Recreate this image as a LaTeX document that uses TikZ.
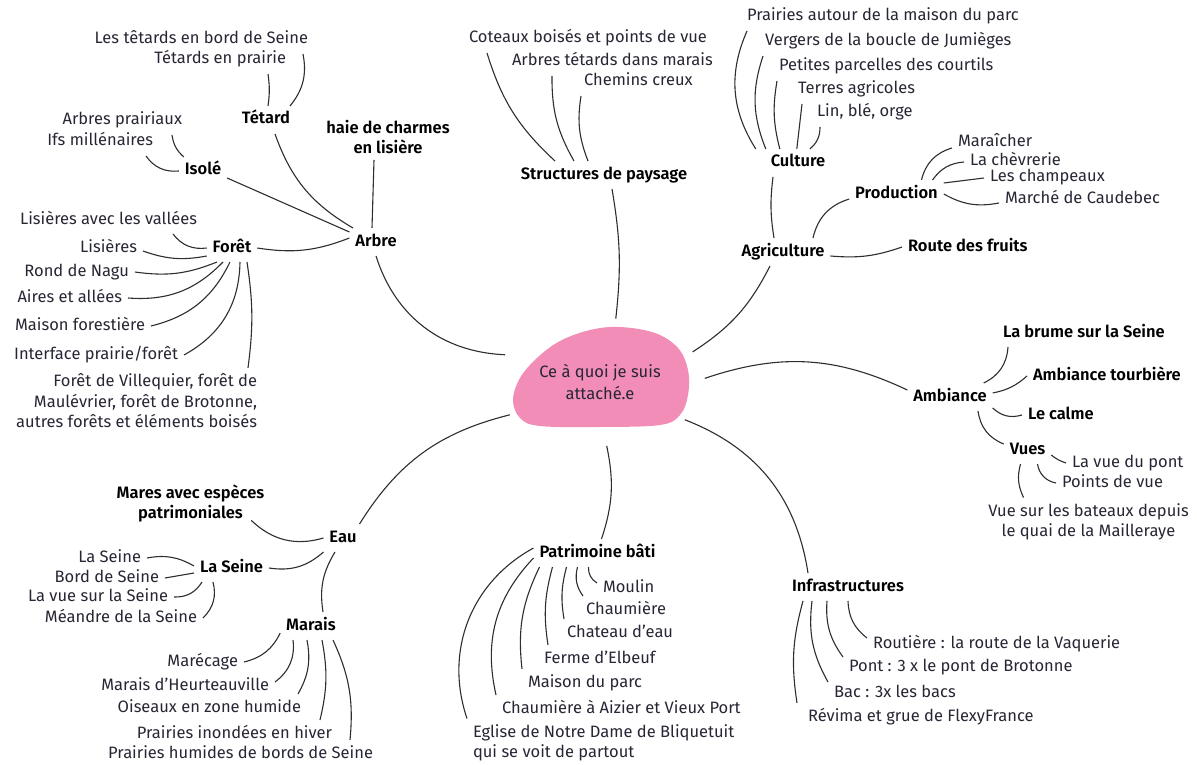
\documentclass[tikz,border=0pt]{standalone}
\usepackage{fontspec}
\setmainfont{Fira Sans}[BoldFont={Fira Sans SemiBold}]
\usetikzlibrary{shapes.geometric}
\definecolor{blobc}{RGB}{242,141,184}
\definecolor{txt}{RGB}{38,38,52}
\definecolor{lnc}{RGB}{45,45,50}
\begin{document}
\begin{tikzpicture}[x=1pt,y=-1pt,
  base/.style={font=\fontsize{16.5}{20.5}\selectfont, text=txt, inner sep=3pt, outer sep=3pt},
  lbl/.style={base, text height=12pt, text depth=4pt},
  hd/.style={lbl, font=\fontsize{16.5}{20.5}\selectfont\bfseries, text=black},
  mlt/.style={base},
  mhd/.style={base, font=\fontsize{16.5}{20.5}\selectfont\bfseries, text=black},
  link/.style={draw=lnc, line width=1.1pt},
]
\useasboundingbox (0,0) rectangle (1197,765);
\fill[blobc] plot[smooth cycle, tension=0.6] coordinates {(513,400) (520,378) (537,358) (560,341) (590,330) (620,327) (655,333) (678,348) (688,370) (688,395) (680,415) (660,425) (600,427) (540,426) (520,418)};
\node[ellipse, minimum width=210pt, minimum height=128pt, inner sep=0pt, outer sep=0pt, align=center, font=\fontsize{16.5}{22}\selectfont, text=txt] (root) at (600,382) {Ce à quoi je suis\\attaché.e};
% main
\node[hd] (arbre) at (376,242) {Arbre};
\node[hd] (struct) at (604,175) {Structures de paysage};
\node[hd] (agri) at (783,252) {Agriculture};
\node[hd] (amb) at (950,397) {Ambiance};
\node[hd] (infra) at (848,587) {Infrastructures};
\node[hd] (patri) at (597.5,553) {Patrimoine bâti};
\node[hd] (eau) at (343,538) {Eau};
% arbre
\node[hd] (tetard) at (266,120) {Tétard};
\node[mhd, align=center] (haie) at (388,137) {haie de charmes\\en lisière};
\node[hd] (isole) at (203,171) {Isolé};
\node[hd] (foret) at (232,248) {Forêt};
\node[lbl, anchor=east] (t1) at (314,40) {Les têtards en bord de Seine};
\node[lbl, anchor=east] (t2) at (292,60) {Tétards en prairie};
\node[lbl, anchor=east] (i1) at (188,121) {Arbres prairiaux};
\node[lbl, anchor=east] (i2) at (159,142) {Ifs millénaires};
\node[lbl, anchor=east] (f1) at (203,220) {Lisières avec les vallées};
\node[lbl, anchor=east] (f2) at (143,248) {Lisières};
\node[lbl, anchor=east] (f3) at (135,272) {Rond de Nagu};
\node[lbl, anchor=east] (f4) at (128,298) {Aires et allées};
\node[lbl, anchor=east] (f5) at (151,326) {Maison forestière};
\node[lbl, anchor=east] (f6) at (184,355) {Interface prairie/forêt};
\node[mlt, align=right, anchor=east] (f7) at (263,401) {Forêt de Villequier, forêt de\\Maulévrier, forêt de Brotonne,\\autres forêts et éléments boisés};
% structures
\node[lbl, anchor=west] (s1) at (463,39) {Coteaux boisés et points de vue};
\node[lbl, anchor=west] (s2) at (506,62) {Arbres tétards dans marais};
\node[lbl, anchor=west] (s3) at (578,82) {Chemins creux};
% agriculture
\node[hd] (cult) at (798,163) {Culture};
\node[lbl, anchor=west] (c1) at (741,17) {Prairies autour de la maison du parc};
\node[lbl, anchor=west] (c2) at (759,42) {Vergers de la boucle de Jumièges};
\node[lbl, anchor=west] (c3) at (773,67) {Petites parcelles des courtils};
\node[lbl, anchor=west] (c4) at (792,90) {Terres agricoles};
\node[lbl, anchor=west] (c5) at (811,113) {Lin, blé, orge};
\node[hd] (prod) at (896.5,194) {Production};
\node[lbl, anchor=west] (p1) at (952,143) {Maraîcher};
\node[lbl, anchor=west] (p2) at (964,162) {La chèvrerie};
\node[lbl, anchor=west] (p3) at (984,178) {Les champeaux};
\node[lbl, anchor=west] (p4) at (999,199) {Marché de Caudebec};
\node[hd, anchor=west] (rf) at (902,247) {Route des fruits};
% ambiance
\node[hd, anchor=west] (a1) at (997,333) {La brume sur la Seine};
\node[hd, anchor=west] (a2) at (1027,376) {Ambiance tourbière};
\node[hd, anchor=west] (a3) at (1022,415) {Le calme};
\node[hd] (vues) at (1027.5,450) {Vues};
\node[lbl, anchor=west] (v1) at (1066,463) {La vue du pont};
\node[lbl, anchor=west] (v2) at (1056,483) {Points de vue};
\node[mlt, align=center] (v3) at (1088.5,522) {Vue sur les bateaux depuis\\le quai de la Mailleraye};
% eau
\node[mhd, align=center] (mares) at (190.5,503.5) {Mares avec espèces\\patrimoniales};
\node[hd] (lseine) at (231.5,568) {La Seine};
\node[hd] (marais) at (311,626) {Marais};
\node[lbl, anchor=east] (ls1) at (147,558) {La Seine};
\node[lbl, anchor=east] (ls2) at (165,578) {Bord de Seine};
\node[lbl, anchor=east] (ls3) at (174,597) {La vue sur la Seine};
\node[lbl, anchor=east] (ls4) at (203,618) {Méandre de la Seine};
\node[lbl, anchor=east] (mr1) at (244,662) {Marécage};
\node[lbl, anchor=east] (mr2) at (275,686) {Marais d’Heurteauville};
\node[lbl, anchor=east] (mr3) at (307,708) {Oiseaux en zone humide};
\node[lbl, anchor=east] (mr4) at (338,734) {Prairies inondées en hiver};
\node[lbl, anchor=east] (mr5) at (379,754) {Prairies humides de bords de Seine};
% patrimoine
\node[lbl, anchor=west] (pb1) at (597,588) {Moulin};
\node[lbl, anchor=west] (pb2) at (580,610) {Chaumière};
\node[lbl, anchor=west] (pb3) at (561,633) {Chateau d’eau};
\node[lbl, anchor=west] (pb4) at (538,659) {Ferme d’Elbeuf};
\node[lbl, anchor=west] (pb5) at (522,683) {Maison du parc};
\node[lbl, anchor=west] (pb6) at (496,709) {Chaumière à Aizier et Vieux Port};
\node[mlt, align=left, anchor=west] (pb7) at (467,743) {Eglise de Notre Dame de Bliquetuit\\qui se voit de partout};
% infra
\node[lbl, anchor=west] (in1) at (867,644) {Routière : la route de la Vaquerie};
\node[lbl, anchor=west] (in2) at (843,667) {Pont : 3 x le pont de Brotonne};
\node[lbl, anchor=west] (in3) at (828,693) {Bac : 3x les bacs};
\node[lbl, anchor=west] (in4) at (802,717) {Révima et grue de FlexyFrance};

% ---------- connectors ----------
\draw[link] (root.164) to[bend left=35] (arbre.south);
\draw[link] (root.76) to[bend right=8] ([xshift=8pt]struct.south);
\draw[link] (root.18) to[bend right=15] ([xshift=-13pt]agri.south);
\draw[link] (root.2) to[bend left=22] ([yshift=7pt]amb.west);
\draw[link] (root.-24) to[bend left=30] ([xshift=-40pt]infra.north);
\draw[link] (root.-84) to[bend left=15] ([xshift=4pt]patri.north);
\draw[link] (root.200) to[bend right=22] ([xshift=-3pt]eau.north east);
% arbre
\draw[link] ([xshift=-23pt]arbre.north) to[bend left=20] ([xshift=9pt]tetard.south);
\draw[link] ([xshift=-4pt]arbre.north) -- ([xshift=-14pt]haie.south);
\draw[link] ([yshift=10pt]arbre.west) -- ([yshift=-7pt]isole.east);
\draw[link] ([yshift=4pt]arbre.west) to[bend left=15] (foret.east);
\draw[link] ([xshift=-6pt]tetard.north east) to[bend right=25] ([xshift=-11pt]t1.south east);
\draw[link] ([xshift=2pt]tetard.north) to[bend right=8] ([xshift=-24pt]t2.south east);
\draw[link] ([xshift=5pt]isole.north west) to[bend left=20] ([xshift=-16pt]i1.south east);
\draw[link] (isole.west) to[bend left=30] ([xshift=-13pt]i2.south east);
\draw[link] (foret.west) to[bend left=30] ([xshift=-30pt]f1.south east);
\draw[link] ([yshift=-8pt]foret.west) to[bend left=15] ([yshift=-3pt]f2.east);
\draw[link] ([xshift=-15pt]foret.south) to[bend left=15] (f3.east);
\draw[link] ([xshift=-9pt]foret.south) to[bend left=25] (f4.east);
\draw[link] ([xshift=-2pt]foret.south) to[bend left=25] (f5.east);
\draw[link] ([xshift=8pt]foret.south) to[bend left=30] (f6.east);
\draw[link] ([xshift=15pt]foret.south) to[bend left=8] ([xshift=-15pt]f7.north east);
% structures
\draw[link] ([xshift=-49pt]struct.north) to[bend left=15] ([xshift=24pt]s1.south west);
\draw[link] ([xshift=-30pt]struct.north) to[bend left=15] ([xshift=46pt]s2.south west);
\draw[link] ([xshift=-16pt]struct.north) to[bend left=15] ([xshift=3pt]s3.south west);
% agriculture
\draw[link] ([xshift=-9pt]agri.north) to[bend left=8] ([xshift=-25pt]cult.south);
\draw[link] ([xshift=-9pt]cult.north west) to[bend left=28] ([xshift=6pt]c1.south west);
\draw[link] ([xshift=1pt]cult.north west) to[bend left=20] ([xshift=4pt]c2.south west);
\draw[link] ([xshift=15pt]cult.north west) to[bend left=12] ([xshift=4pt]c3.south west);
\draw[link] ([xshift=32pt]cult.north west) -- ([xshift=10pt]c4.south west);
\draw[link] ([xshift=45pt]cult.north west) to[bend right=25] ([xshift=9pt]c5.south west);
\draw[link] ([xshift=30pt]agri.north) to[bend left=30] ([yshift=-5pt]prod.west);
\draw[link] ([yshift=-4pt]agri.east) to[bend right=12] (rf.west);
\draw[link] ([xshift=25pt]prod.north) to[bend left=30] ([yshift=-5pt]p1.west);
\draw[link] ([xshift=36pt]prod.north) to[bend left=25] (p2.west);
\draw[link] ([yshift=11pt]prod.east) -- (p3.west);
\draw[link] (prod.east) to[bend right=20] ([yshift=-4pt]p4.west);
% ambiance
\draw[link] ([xshift=-9pt]amb.north east) to[bend right=30] ([xshift=11pt]a1.south west);
\draw[link] ([yshift=4pt]amb.east) to[bend right=15] (a2.west);
\draw[link] ([yshift=-11pt]amb.east) to[bend right=30] (a3.west);
\draw[link] ([xshift=28pt]amb.south) to[bend right=30] ([yshift=6pt]vues.west);
\draw[link] ([yshift=-5pt]vues.east) to[bend right=10] (v1.west);
\draw[link] ([xshift=10pt]vues.south) to[bend right=35] (v2.west);
\draw[link] ([xshift=-7pt]vues.south) to[bend right=20] ([xshift=-65pt]v3.north);
% eau
\draw[link] (eau.west) to[bend left=30] ([xshift=-19pt,yshift=8pt]mares.south east);
\draw[link] (eau.south west) to[bend left=25] (lseine.east);
\draw[link] ([xshift=-8pt]eau.south) to[bend right=20] ([xshift=12pt]marais.north);
\draw[link] ([yshift=2pt]lseine.west) to[bend right=20] (ls1.east);
\draw[link] ([yshift=-5pt]lseine.west) -- (ls2.east);
\draw[link] ([xshift=8pt]lseine.south west) to[bend left=30] (ls3.east);
\draw[link] ([xshift=19pt]lseine.south west) to[bend left=30] (ls4.east);
\draw[link] ([yshift=-7pt]marais.west) to[bend left=25] (mr1.east);
\draw[link] ([xshift=-18pt]marais.south) to[bend left=30] ([yshift=4pt]mr2.east);
\draw[link] ([xshift=-4pt]marais.south) to[bend left=20] ([xshift=-9pt]mr3.north east);
\draw[link] ([xshift=11pt]marais.south) to[bend left=12] ([xshift=-18pt]mr4.north east);
\draw[link] ([xshift=22pt]marais.south) to[bend left=15] ([xshift=-29pt]mr5.north east);
% patrimoine
\draw[link] ([xshift=-9pt]patri.south) to[bend right=30] ([yshift=5pt]pb1.west);
\draw[link] ([xshift=-20pt]patri.south) to[bend right=25] ([xshift=3pt]pb2.north west);
\draw[link] ([xshift=-31pt]patri.south) to[bend right=12] ([xshift=3pt]pb3.north west);
\draw[link] ([xshift=-45pt]patri.south) to[bend right=12] ([xshift=10pt]pb4.north west);
\draw[link] ([xshift=-58pt]patri.south) to[bend right=16] (pb5.north west);
\draw[link] ([yshift=-5pt]patri.west) to[bend right=28] (pb6.north west);
\draw[link] ([yshift=5pt]patri.west) to[bend right=40] (pb7.north west);
% infra
\draw[link] (infra.south) to[bend right=25] ([yshift=6pt]in1.west);
\draw[link] ([xshift=-21pt]infra.south) to[bend right=20] ([yshift=10pt]in2.west);
\draw[link] ([xshift=-36pt]infra.south) to[bend right=18] ([yshift=11pt]in3.west);
\draw[link] ([xshift=-45pt]infra.south) to[bend right=12] ([xshift=-5pt]in4.north west);
\end{tikzpicture}
\end{document}
